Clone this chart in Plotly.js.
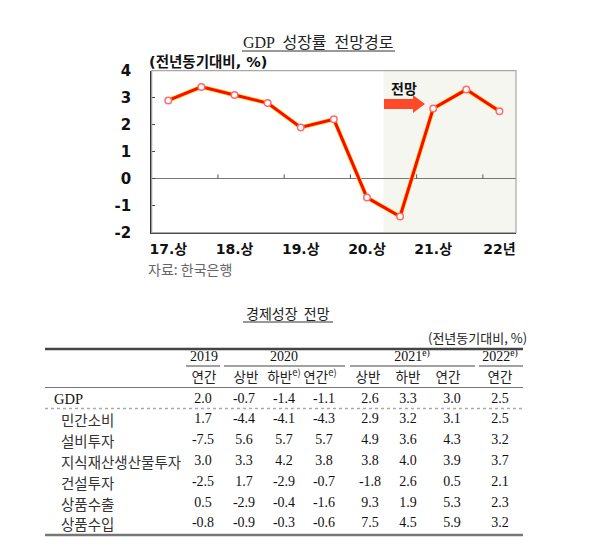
<!DOCTYPE html>
<html><head><meta charset="utf-8">
<script src="https://cdn.plot.ly/plotly-3.0.1.min.js"></script>
<style>html,body{margin:0;padding:0;background:#fff}#g{width:600px;height:551px}</style>
</head><body><div id="g"></div>
<script>
// ---- chart data ----
const chartLabels = ['17.상','17.하','18.상','18.하','19.상','19.하','20.상','20.하','21.상','21.하','22년'];
const gdpPath = [2.9, 3.4, 3.1, 2.8, 1.9, 2.2, -0.7, -1.4, 2.6, 3.3, 2.5];
const xTickVals = ['17.상','18.상','19.상','20.상','21.상','22년'];
const yTickVals = [-2, -1, 0, 1, 2, 3, 4];
const yTickText = ['-2', '-1', '0', '1', '2', '3', '4'];

// ---- table data ----
const yearHeaders = ['2019', '2020', '2021<sup>e)</sup>', '2022<sup>e)</sup>'];
const subHeaders = ['연간', '상반', '하반<sup>e)</sup>', '연간<sup>e)</sup>', '상반', '하반', '연간', '연간'];
const rowNames = ['GDP', '민간소비', '설비투자', '지식재산생산물투자', '건설투자', '상품수출', '상품수입'];
const gdpRow = [2.0, -0.7, -1.4, -1.1, 2.6, 3.3, 3.0, 2.5];
const consumption = [1.7, -4.4, -4.1, -4.3, 2.9, 3.2, 3.1, 2.5];
const facilityInv = [-7.5, 5.6, 5.7, 5.7, 4.9, 3.6, 4.3, 3.2];
const ipInv = [3.0, 3.3, 4.2, 3.8, 3.8, 4.0, 3.9, 3.7];
const constructionInv = [-2.5, 1.7, -2.9, -0.7, -1.8, 2.6, 0.5, 2.1];
const goodsExports = [0.5, -2.9, -0.4, -1.6, 9.3, 1.9, 5.3, 2.3];
const goodsImports = [-0.8, -0.9, -0.3, -0.6, 7.5, 4.5, 5.9, 3.2];
const tableRows = [gdpRow, consumption, facilityInv, ipInv, constructionInv, goodsExports, goodsImports];

// ---- layout constants (pixel positions) ----
const W = 600, H = 551;
const plotL = 151.7, plotR = 516, plotT = 70.7, plotB = 232.7;
const colX = [203, 244, 284, 324, 370, 408, 452, 500];
const subX = [204, 246, 284, 320, 368, 408, 448, 500];
const yearX = [204, 284, 412, 500];
const yearSpans = [[186, 220], [224, 345], [350, 475], [479, 523]];
const rowY0 = 399, rowStep = 20.8;
const labelX = [52, 59];

const SANS = '"Noto Sans CJK KR", "Noto Sans", sans-serif';
const BOLDSANS = '"DejaVu Sans", "Noto Sans CJK KR", sans-serif';
const SERIF = '"Liberation Serif", "DejaVu Serif", "Noto Sans CJK KR", serif';
const fmt = v => v.toFixed(1);

const traces = [];
// edge underlay
traces.push({
  x: chartLabels, y: gdpPath, type: 'scatter', mode: 'lines',
  line: {color: '#ffe030', width: 4.4}, hoverinfo: 'skip', showlegend: false,
  xaxis: 'x', yaxis: 'y'
});
traces.push({
  x: chartLabels, y: gdpPath, type: 'scatter', mode: 'lines+markers',
  line: {color: '#ff0800', width: 3},
  marker: {size: 6.5, color: '#ffffff', line: {color: '#ff6a6a', width: 1.5}},
  showlegend: false, xaxis: 'x', yaxis: 'y'
});

// table numbers
const tx = [], ty = [], tt = [];
tableRows.forEach((row, r) => row.forEach((v, c) => {
  tx.push(colX[c]); ty.push(rowY0 + r * rowStep); tt.push(fmt(v));
}));
traces.push({
  x: tx, y: ty, text: tt, type: 'scatter', mode: 'text', textposition: 'middle center',
  textfont: {family: SERIF, size: 14, color: '#111'}, cliponaxis: false,
  hoverinfo: 'skip', showlegend: false, xaxis: 'x2', yaxis: 'y2'
});
// sub headers
traces.push({
  x: subX, y: subHeaders.map(() => rowY0 - rowStep), text: subHeaders,
  type: 'scatter', mode: 'text', textposition: 'middle center',
  textfont: {family: SANS, size: 13.5, color: '#222'}, cliponaxis: false,
  hoverinfo: 'skip', showlegend: false, xaxis: 'x2', yaxis: 'y2'
});
// year headers
traces.push({
  x: yearX, y: yearHeaders.map(() => rowY0 - 2 * rowStep + 0.5), text: yearHeaders,
  type: 'scatter', mode: 'text', textposition: 'middle center',
  textfont: {family: SERIF, size: 14, color: '#111'}, cliponaxis: false,
  hoverinfo: 'skip', showlegend: false, xaxis: 'x2', yaxis: 'y2'
});

const annotations = [];
const ann = (x, y, text, font, xanchor) => annotations.push({
  x, y, xref: 'x2', yref: 'y2', text, showarrow: false, font,
  xanchor: xanchor || 'center', yanchor: 'middle'
});
ann(318, 42, 'GDP  성장률  전망경로', {family: SERIF, size: 16, color: '#222'});
ann(147, 62, '<b>(전년동기대비, %)</b>', {family: BOLDSANS, size: 14.5, color: '#111'}, 'left');
ann(389, 88, '<b>전망</b>', {family: SANS, size: 14, color: '#111'}, 'left');
ann(146, 269, '자료: 한국은행', {family: SANS, size: 14, color: '#666'}, 'left');
ann(288, 313, '경제성장  전망', {family: SANS, size: 14, color: '#222'});
ann(529, 337, '(전년동기대비, %)', {family: SANS, size: 13, color: '#222'}, 'right');
rowNames.forEach((n, i) => ann(labelX[i === 0 ? 0 : 1], rowY0 + i * rowStep, n,
  i === 0 ? {family: SERIF, size: 14.5, color: '#111'} : {family: SANS, size: 14.5, color: '#333'}, 'left'));

const shapes = [];
// shaded forecast region
shapes.push({type: 'rect', xref: 'x', yref: 'y', x0: 6.5, x1: 10.5, y0: -2, y1: 4,
  fillcolor: '#f5f6f0', line: {width: 0}, layer: 'below'});
// frame (top/right lighter)
shapes.push({type: 'rect', xref: 'x2', yref: 'y2', x0: plotL, x1: plotR, y0: plotT, y1: plotB,
  line: {color: '#a8a8a8', width: 1.2}, layer: 'above'});
// year boundary ticks on zero line
[1.5, 3.5, 5.5, 7.5, 9.5].forEach(xv => shapes.push({type: 'line', xref: 'x', yref: 'y',
  x0: xv, x1: xv, y0: 0, y1: 0.16, line: {color: '#555', width: 1}}));
// arrow
shapes.push({type: 'path', xref: 'x2', yref: 'y2',
  path: 'M 384 99 L 413 99 L 413 95 L 425 104 L 413 113 L 413 109 L 384 109 Z',
  fillcolor: '#ff4a2a', line: {width: 0}});
// title underlines
shapes.push({type: 'line', xref: 'x2', yref: 'y2', x0: 242, x1: 395, y0: 51, y1: 51, line: {color: '#333', width: 1}});
shapes.push({type: 'line', xref: 'x2', yref: 'y2', x0: 243, x1: 333, y0: 322, y1: 322, line: {color: '#333', width: 1}});
// table rules
shapes.push({type: 'line', xref: 'x2', yref: 'y2', x0: 45, x1: 523, y0: 349, y1: 349, line: {color: '#444', width: 2.5}});
yearSpans.forEach(s => shapes.push({type: 'line', xref: 'x2', yref: 'y2', x0: s[0], x1: s[1], y0: 366, y1: 366, line: {color: '#444', width: 1.2}}));
shapes.push({type: 'line', xref: 'x2', yref: 'y2', x0: 45, x1: 523, y0: 387.5, y1: 387.5, line: {color: '#777', width: 1}});
shapes.push({type: 'line', xref: 'x2', yref: 'y2', x0: 45, x1: 523, y0: 408.5, y1: 408.5, line: {color: '#aaa', width: 1.5, dash: 'dot'}});
shapes.push({type: 'line', xref: 'x2', yref: 'y2', x0: 45, x1: 523, y0: 535, y1: 535, line: {color: '#777', width: 2.5}});

const layout = {
  width: W, height: H, margin: {l: 0, r: 0, t: 0, b: 0},
  paper_bgcolor: '#ffffff', plot_bgcolor: 'rgba(0,0,0,0)', showlegend: false,
  xaxis: {domain: [plotL / W, plotR / W], type: 'category', range: [-0.5, 10.5],
    tickvals: xTickVals, ticktext: xTickVals, showgrid: false, zeroline: false,
    showline: true, linecolor: '#333', linewidth: 1.5, ticks: '', ticklabelstandoff: 3,
    tickfont: {family: BOLDSANS, size: 14, color: '#111', weight: 'bold'}, fixedrange: true},
  yaxis: {domain: [1 - plotB / H, 1 - plotT / H], range: [-2, 4], tickvals: yTickVals, ticktext: yTickText,
    showgrid: false, zeroline: true, zerolinecolor: '#777', zerolinewidth: 1,
    showline: true, linecolor: '#333', linewidth: 1.5, ticks: 'inside', ticklen: 3, tickcolor: '#444',
    ticklabelstandoff: 16, tickfont: {family: BOLDSANS, size: 15, color: '#111', weight: 'bold'}, fixedrange: true},
  xaxis2: {domain: [0, 1], range: [0, W], visible: false, fixedrange: true},
  yaxis2: {domain: [0, 1], range: [H, 0], visible: false, fixedrange: true},
  annotations, shapes
};
Plotly.newPlot('g', traces, layout, {displayModeBar: false, staticPlot: true});
</script></body></html>
